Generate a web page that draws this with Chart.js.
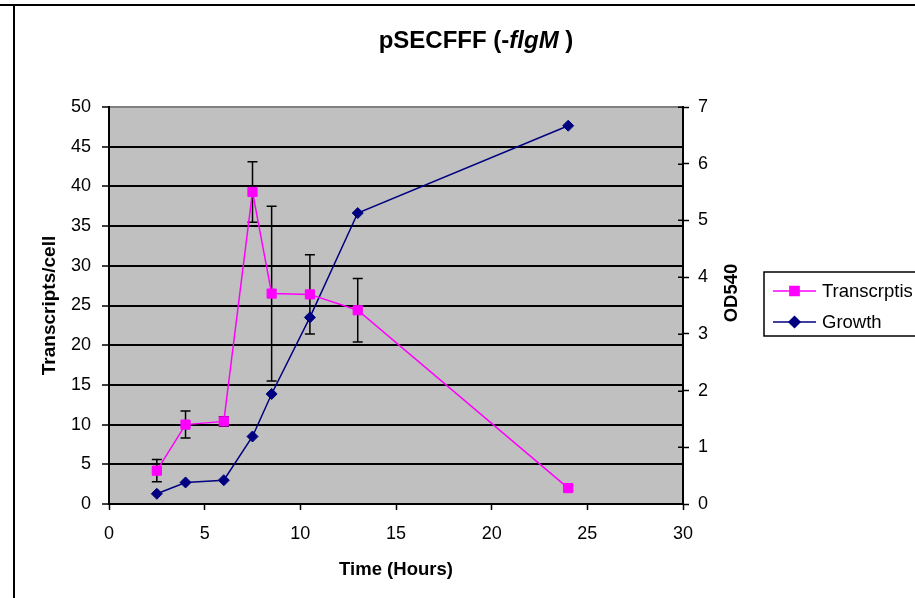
<!DOCTYPE html>
<html>
<head>
<meta charset="utf-8">
<script src="https://cdn.jsdelivr.net/npm/chart.js@4.4.0/dist/chart.umd.min.js"></script>
<style>
  html, body { margin: 0; padding: 0; background: #fff; }
  canvas { display: block; }
</style>
</head>
<body>
<canvas id="myChart" width="915" height="598"></canvas>
<script>
// sampling times and the two measured series
const hours = [2.5, 4, 6, 7.5, 8.5, 10.5, 13, 24];
const transcripts = [4.2, 10.0, 10.4, 39.3, 26.5, 26.4, 24.4, 2.0];
const transcriptErr = [1.4, 1.7, 0.6, 3.8, 11.0, 5.0, 4.0, 0.3];
const growth = [0.18, 0.38, 0.42, 1.19, 1.94, 3.29, 5.13, 6.67];

const TRANSCRIPTS = 'Transcrptis';
const GROWTH = 'Growth';

const FONT = "'Liberation Sans', Arial, sans-serif";
const PLOT_BG = '#c0c0c0';
const TICK_FONT = { family: FONT, size: 18 };
const AXIS_TITLE_FONT = { family: FONT, size: 18.5, weight: 'bold' };

const toPoints = (ys) => hours.map((h, i) => ({ x: h, y: ys[i] }));

// grey plot background
const plotBackground = {
  id: 'plotBackground',
  beforeDraw(chart) {
    const { ctx, chartArea: a } = chart;
    ctx.save();
    ctx.fillStyle = PLOT_BG;
    ctx.fillRect(a.left, a.top, a.right - a.left, a.bottom - a.top);
    ctx.restore();
  }
};

// vertical +/- bars on the transcript series
const errorBars = {
  id: 'errorBars',
  beforeDatasetsDraw(chart) {
    const { ctx, scales } = chart;
    const xs = scales.x, ys = scales.y;
    ctx.save();
    ctx.strokeStyle = '#000';
    ctx.lineWidth = 1.5;
    hours.forEach((h, i) => {
      const x = xs.getPixelForValue(h);
      const top = ys.getPixelForValue(transcripts[i] + transcriptErr[i]);
      const bot = ys.getPixelForValue(transcripts[i] - transcriptErr[i]);
      ctx.beginPath();
      ctx.moveTo(x, top); ctx.lineTo(x, bot);
      ctx.moveTo(x - 5, top); ctx.lineTo(x + 5, top);
      ctx.moveTo(x - 5, bot); ctx.lineTo(x + 5, bot);
      ctx.stroke();
    });
    ctx.restore();
  }
};

// title with the italic gene name, right axis title, legend box, outer frame
const decorations = {
  id: 'decorations',
  afterDraw(chart) {
    const { ctx, scales } = chart;
    ctx.save();

    // frame
    ctx.strokeStyle = '#000';
    ctx.lineWidth = 2;
    ctx.beginPath();
    ctx.moveTo(0, 5); ctx.lineTo(915, 5);
    ctx.moveTo(14, 5); ctx.lineTo(14, 598);
    ctx.stroke();

    // right axis ticks cross the axis line
    const r = scales.y1;
    ctx.lineWidth = 1.5;
    ctx.beginPath();
    r.ticks.forEach(t => {
      const y = Math.round(r.getPixelForValue(t.value)) + 0.25;
      ctx.moveTo(r.left - 5, y); ctx.lineTo(r.left, y);
    });
    ctx.stroke();

    // title
    const parts = [
      { text: 'pSECFFF (-', font: `bold 24px ${FONT}` },
      { text: 'flgM', font: `italic bold 24px ${FONT}` },
      { text: ' )', font: `bold 24px ${FONT}` },
    ];
    let total = 0;
    parts.forEach(p => { ctx.font = p.font; p.w = ctx.measureText(p.text).width; total += p.w; });
    let tx = 476 - total / 2;
    ctx.fillStyle = '#000';
    ctx.textBaseline = 'middle';
    ctx.textAlign = 'left';
    parts.forEach(p => { ctx.font = p.font; ctx.fillText(p.text, tx, 41); tx += p.w; });

    // right axis title
    ctx.save();
    ctx.translate(732, 293);
    ctx.rotate(-Math.PI / 2);
    ctx.font = `bold 18.5px ${FONT}`;
    ctx.textAlign = 'center';
    ctx.textBaseline = 'middle';
    ctx.fillText('OD540', 0, 0);
    ctx.restore();

    // legend
    ctx.fillStyle = '#fff';
    ctx.fillRect(764, 272, 160, 64);
    ctx.lineWidth = 1.5;
    ctx.strokeStyle = '#000';
    ctx.strokeRect(764, 272, 160, 64);
    chart.data.datasets.forEach((ds, i) => {
      const y = 291 + i * 31;
      ctx.strokeStyle = ds.borderColor;
      ctx.lineWidth = 1.5;
      ctx.beginPath();
      ctx.moveTo(773, y); ctx.lineTo(816, y);
      ctx.stroke();
      Chart.helpers.drawPoint(ctx, {
        pointStyle: ds.pointStyle, radius: ds.pointRadius, borderWidth: 1
      }, 794.5, y);
      ctx.fillStyle = ds.pointBackgroundColor;
      ctx.strokeStyle = ds.pointBorderColor;
      ctx.fill();
      ctx.fillStyle = '#000';
      ctx.font = `18.5px ${FONT}`;
      ctx.textAlign = 'left';
      ctx.textBaseline = 'middle';
      ctx.fillText(ds.label, 822, y + 1);
    });

    ctx.restore();
  }
};

const ctx = document.getElementById('myChart');
const chart = new Chart(ctx, {
  type: 'line',
  data: {
    datasets: [
      {
        label: TRANSCRIPTS,
        data: toPoints(transcripts),
        yAxisID: 'y',
        borderColor: '#ff00ff',
        borderWidth: 1.5,
        pointStyle: 'rect',
        pointRadius: 6.5,
        pointBackgroundColor: '#ff00ff',
        pointBorderColor: '#ff00ff',
        pointBorderWidth: 1,
        tension: 0,
      },
      {
        label: GROWTH,
        data: toPoints(growth),
        yAxisID: 'y1',
        borderColor: '#000080',
        borderWidth: 1.5,
        pointStyle: 'rectRot',
        pointRadius: 5.5,
        pointBackgroundColor: '#000080',
        pointBorderColor: '#000080',
        pointBorderWidth: 1,
        tension: 0,
      },
    ]
  },
  options: {
    responsive: false,
    animation: false,
    layout: { padding: { top: 107, left: 0, right: 0, bottom: 0 } },
    scales: {
      x: {
        type: 'linear',
        position: 'bottom',
        min: 0,
        max: 30,
        ticks: { stepSize: 5, color: '#000', font: TICK_FONT, padding: 13 },
        grid: { drawOnChartArea: false, tickLength: 6, tickColor: '#000', tickWidth: 1.5 },
        border: { color: '#000', width: 2 },
        title: {
          display: true, text: 'Time (Hours)', color: '#000',
          font: AXIS_TITLE_FONT, padding: { bottom: 17 }
        },
        afterFit: (s) => { s.height = 94; },
      },
      y: {
        position: 'left',
        min: 0,
        max: 50,
        ticks: { stepSize: 5, color: '#000', font: TICK_FONT, padding: 11 },
        grid: {
          color: (c) => (c.tick && c.tick.value === 50 ? '#808080' : '#000'),
          lineWidth: 2,
          tickLength: 7,
          tickColor: '#000',
          tickWidth: 1.5,
        },
        border: { color: '#000', width: 2 },
        title: {
          display: true, text: 'Transcripts/cell', color: '#000',
          font: { family: FONT, size: 19, weight: 'bold' }, padding: { top: 38 }
        },
        afterFit: (s) => { s.width = 109; },
      },
      y1: {
        position: 'right',
        min: 0,
        max: 7,
        ticks: { stepSize: 1, color: '#000', font: TICK_FONT, padding: 9 },
        grid: { drawOnChartArea: false, tickLength: 6, tickColor: '#000', tickWidth: 1.5 },
        border: { color: '#000', width: 2 },
        afterFit: (s) => { s.width = 232; },
      },
    },
    plugins: {
      legend: { display: false },
      title: { display: false },
      tooltip: { enabled: false },
    }
  },
  plugins: [plotBackground, errorBars, decorations]
});
</script>
</body>
</html>
